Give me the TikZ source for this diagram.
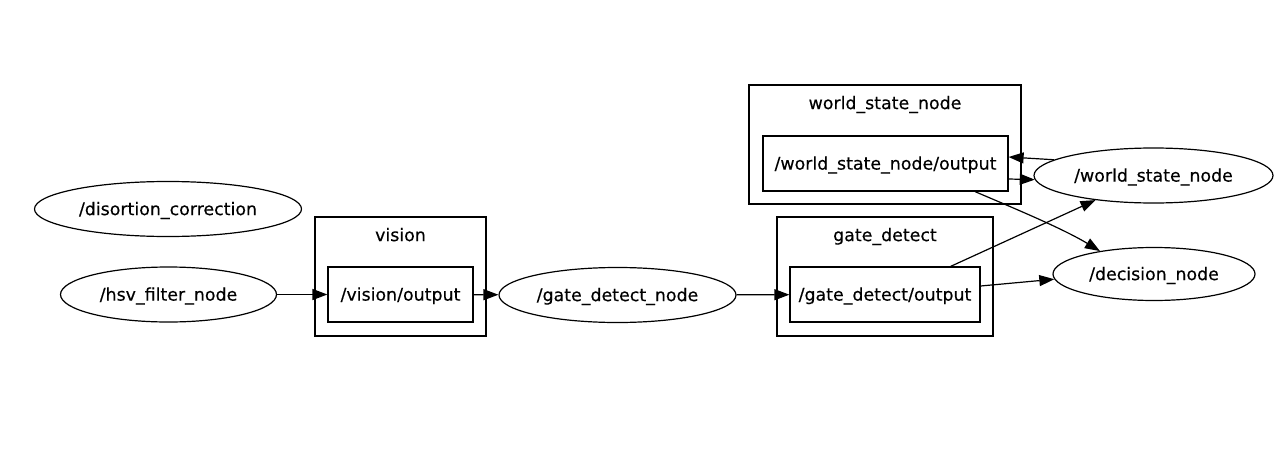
\documentclass[tikz,border=0pt]{standalone}
\usepackage{fontspec}
\setmainfont[FakeBold=0.3]{DejaVu Sans}
\usetikzlibrary{shapes.geometric,arrows.meta}

\begin{document}
\begin{tikzpicture}[
    x=1pt, y=-1pt,
    >={Triangle[length=15pt,width=11pt]},
    every node/.style={
      font=\fontsize{17.4}{20}\selectfont,
      text height=16.3pt, text depth=4.1pt, inner sep=0pt,
    },
    rosnode/.style={ellipse, draw, line width=1.2pt, minimum height=55pt},
    topic/.style={rectangle, draw, line width=1.2pt, minimum height=55pt},
    cluster/.style={rectangle, draw, line width=1.2pt, minimum height=119pt},
    edge/.style={->, line width=1.2pt},
  ]
  \useasboundingbox (0,0) rectangle (1279,452);

  % ---- Stand-alone nodes ----
  \node[rosnode, minimum width=267pt] (distort)   at (168,209)      {/disortion\_correction};
  \node[rosnode, minimum width=216pt] (hsv)       at (168.5,294.5)  {/hsv\_filter\_node};
  \node[rosnode, minimum width=237pt] (gatenode)  at (617.5,295)    {/gate\_detect\_node};
  \node[rosnode, minimum width=239pt] (worldnode) at (1153.5,175.5) {/world\_state\_node};
  \node[rosnode, minimum width=202pt, minimum height=53pt] (decision) at (1154,274) {/decision\_node};

  % ---- vision namespace ----
  \node[cluster, minimum width=171pt] (visionns)  at (400.5,276.5) {};
  \node (visionlab) at (400.5,235) {vision};
  \node[topic, minimum width=145pt]   (visionout) at (400.5,294.5) {/vision/output};

  % ---- gate_detect namespace ----
  \node[cluster, minimum width=216pt] (gatens)  at (885,276.5) {};
  \node (gatelab) at (885,235) {gate\_detect};
  \node[topic, minimum width=190pt]   (gateout) at (885,294.5) {/gate\_detect/output};

  % ---- world_state_node namespace ----
  \node[cluster, minimum width=272pt] (worldns) at (885,144.5) {};
  \node (worldlab) at (885,103) {world\_state\_node};
  \node[topic, minimum width=245pt]   (wsout)   at (885.5,163.5) {/world\_state\_node/output};

  % ---- Topic edges ----
  \draw[edge] (hsv) -- (visionout);
  \draw[edge] (visionout) -- (gatenode);
  \draw[edge] (gatenode) -- (gateout);
  \draw[edge] ([yshift=8.5pt]gateout.east) -- (decision.183);
  \draw[edge] ([xshift=-30pt]gateout.north east) -- (worldnode.203.6);
  \draw[edge] (worldnode.171) -- ([yshift=6.5pt]wsout.east);
  \draw[edge] ([yshift=-15.5pt]wsout.east) -- (worldnode.182);
  \draw[edge] ([xshift=89.5pt]wsout.south) .. controls +(35,15) and +(-38,-23) .. (decision.157);

\end{tikzpicture}
\end{document}
